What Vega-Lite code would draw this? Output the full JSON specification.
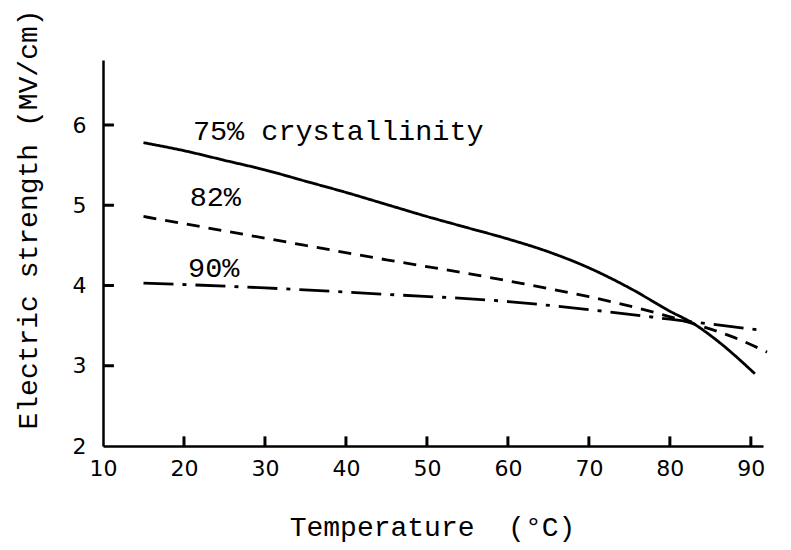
{
  "$schema": "https://vega.github.io/schema/vega-lite/v6.json",
  "width": 660,
  "height": 386,
  "autosize": {"type": "none"},
  "padding": {"left": 103, "top": 60, "right": 28, "bottom": 104},
  "background": "white",
  "config": {
    "view": {"stroke": null},
    "axis": {
      "grid": false,
      "domainColor": "black",
      "domainWidth": 2.5,
      "ticks": false,
      "labelFlush": false,
      "labelOverlap": false,
      "labelFont": "DejaVu Sans",
      "labelFontSize": 22,
      "labelColor": "black",
      "titleFont": "Liberation Mono",
      "titleFontSize": 28,
      "titleFontWeight": "normal",
      "titleColor": "black"
    }
  },
  "datasets": {
    "curves": [
      {"T": 15, "E": 5.78, "series": "75%"},
      {"T": 20, "E": 5.68, "series": "75%"},
      {"T": 25, "E": 5.56, "series": "75%"},
      {"T": 30, "E": 5.44, "series": "75%"},
      {"T": 35, "E": 5.30, "series": "75%"},
      {"T": 40, "E": 5.16, "series": "75%"},
      {"T": 45, "E": 5.01, "series": "75%"},
      {"T": 50, "E": 4.86, "series": "75%"},
      {"T": 55, "E": 4.72, "series": "75%"},
      {"T": 60, "E": 4.58, "series": "75%"},
      {"T": 65, "E": 4.42, "series": "75%"},
      {"T": 70, "E": 4.22, "series": "75%"},
      {"T": 75, "E": 3.97, "series": "75%"},
      {"T": 80, "E": 3.68, "series": "75%"},
      {"T": 83, "E": 3.52, "series": "75%"},
      {"T": 86, "E": 3.30, "series": "75%"},
      {"T": 90.5, "E": 2.90, "series": "75%"},
      {"T": 15, "E": 4.86, "series": "82%"},
      {"T": 25, "E": 4.68, "series": "82%"},
      {"T": 35, "E": 4.50, "series": "82%"},
      {"T": 45, "E": 4.32, "series": "82%"},
      {"T": 55, "E": 4.15, "series": "82%"},
      {"T": 62, "E": 4.02, "series": "82%"},
      {"T": 70, "E": 3.86, "series": "82%"},
      {"T": 76, "E": 3.72, "series": "82%"},
      {"T": 83, "E": 3.52, "series": "82%"},
      {"T": 88, "E": 3.35, "series": "82%"},
      {"T": 92, "E": 3.17, "series": "82%"},
      {"T": 15, "E": 4.03, "series": "90%"},
      {"T": 30, "E": 3.97, "series": "90%"},
      {"T": 45, "E": 3.89, "series": "90%"},
      {"T": 60, "E": 3.80, "series": "90%"},
      {"T": 70, "E": 3.70, "series": "90%"},
      {"T": 80, "E": 3.58, "series": "90%"},
      {"T": 85, "E": 3.52, "series": "90%"},
      {"T": 91.5, "E": 3.44, "series": "90%"}
    ],
    "labels": [
      {"T": 21.1, "E": 5.93, "text": "75% crystallinity"},
      {"T": 20.7, "E": 5.10, "text": "82%"},
      {"T": 20.5, "E": 4.22, "text": "90%"}
    ],
    "xticks": [{"T": 20}, {"T": 30}, {"T": 40}, {"T": 50}, {"T": 60}, {"T": 70}, {"T": 80}, {"T": 90}],
    "yticks": [{"E": 3}, {"E": 4}, {"E": 5}, {"E": 6}]
  },
  "layer": [
    {
      "data": {"name": "curves"},
      "mark": {"type": "line", "interpolate": "monotone", "color": "black", "strokeWidth": 2.8},
      "encoding": {
        "x": {
          "field": "T", "type": "quantitative",
          "scale": {"domain": [10, 91.5], "nice": false, "zero": false},
          "axis": {"values": [10, 20, 30, 40, 50, 60, 70, 80, 90], "format": "d", "title": "Temperature\u00a0\u00a0(°C)", "labelPadding": 12, "titleX": 329, "titleY": 81, "titleBaseline": "middle", "titleAnchor": null}
        },
        "y": {
          "field": "E", "type": "quantitative",
          "scale": {"domain": [2, 6.81], "nice": false, "zero": false},
          "axis": {"values": [2, 3, 4, 5, 6], "format": "d", "title": "Electric strength (MV/cm)", "labelPadding": 17, "titleX": -75, "titleY": 159, "titleBaseline": "middle", "titleAngle": -90}
        },
        "detail": {"field": "series"},
        "strokeDash": {
          "field": "series", "type": "nominal",
          "scale": {"domain": ["75%", "82%", "90%"], "range": [[1, 0], [13, 9], [30, 9, 4, 9]]},
          "legend": null
        }
      }
    },
    {
      "data": {"name": "xticks"},
      "mark": {"type": "rule", "color": "black", "strokeWidth": 3},
      "encoding": {
        "x": {"field": "T", "type": "quantitative"},
        "y": {"datum": 2},
        "y2": {"datum": 2.12}
      }
    },
    {
      "data": {"name": "yticks"},
      "mark": {"type": "rule", "color": "black", "strokeWidth": 3},
      "encoding": {
        "y": {"field": "E", "type": "quantitative"},
        "x": {"datum": 10},
        "x2": {"datum": 11.35}
      }
    },
    {
      "data": {"name": "labels"},
      "mark": {"type": "text", "align": "left", "baseline": "middle", "font": "Liberation Mono", "fontSize": 28.5, "color": "black"},
      "encoding": {
        "x": {"field": "T", "type": "quantitative"},
        "y": {"field": "E", "type": "quantitative"},
        "text": {"field": "text"}
      }
    }
  ]
}
